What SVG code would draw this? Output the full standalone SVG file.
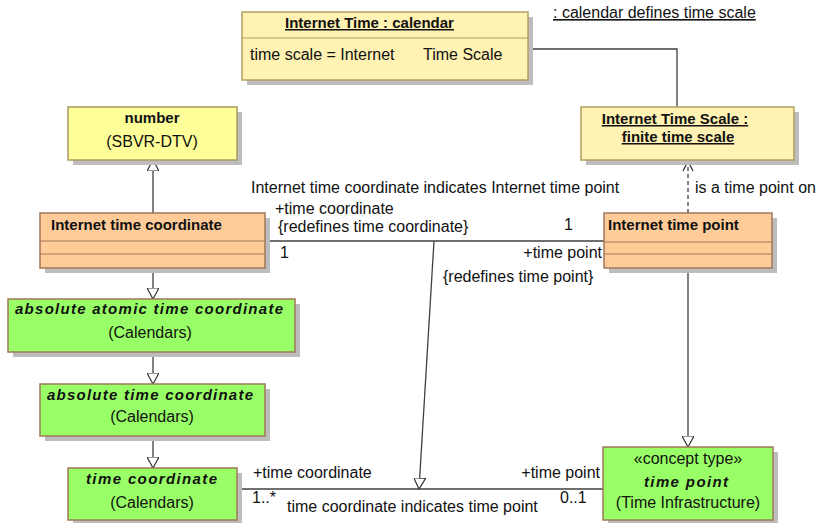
<svg xmlns="http://www.w3.org/2000/svg" width="819" height="523" viewBox="0 0 819 523">
<style>
text{font-family:"Liberation Sans",Arial,sans-serif;font-size:16px;fill:#111}
.b{font-weight:bold;font-size:15px}
.bi{font-weight:bold;font-style:italic;font-size:15px}
.u{text-decoration:underline}
.m{text-anchor:middle}
.sh{fill:#bdbdbd}
.yel{fill:#FFFF99;stroke:#A89860;stroke-width:1.5}
.bei{fill:#FFF2B3;stroke:#B0A060;stroke-width:1.5}
.org{fill:#FFCC99;stroke:#A07858;stroke-width:1.5}
.grn{fill:#99FF66;stroke:#A07858;stroke-width:1.5}
.sep{stroke:#A07858;stroke-width:1.2}
.ln{fill:none;stroke:#404040;stroke-width:1.3}
.dash{fill:none;stroke:#404040;stroke-width:1.3;stroke-dasharray:4,3}
</style>
<defs>
<marker id="gen" viewBox="0 0 12 12" refX="11" refY="6" markerWidth="12" markerHeight="12" markerUnits="userSpaceOnUse" orient="auto">
<path d="M0,0 L11,6 L0,12 Z" fill="#fff" stroke="#333" stroke-width="1.2"/>
</marker>
<marker id="open" viewBox="0 0 12 12" refX="11" refY="6" markerWidth="12" markerHeight="12" markerUnits="userSpaceOnUse" orient="auto">
<path d="M1,1 L11,6 L1,11" fill="none" stroke="#333" stroke-width="1.3"/>
</marker>
</defs>

<g id="connectors">
<polyline class="ln" points="528,49 677,49 677,107"/>
<line class="dash" x1="688" y1="213" x2="688" y2="161" marker-end="url(#open)"/>
<line class="ln" x1="153" y1="213" x2="153" y2="160" marker-end="url(#gen)"/>
<line class="ln" x1="265" y1="241" x2="604" y2="241"/>
<line class="ln" x1="434" y1="241" x2="419" y2="489" marker-end="url(#gen)"/>
<line class="ln" x1="153" y1="268" x2="153" y2="299" marker-end="url(#gen)"/>
<line class="ln" x1="153" y1="352" x2="153" y2="384" marker-end="url(#gen)"/>
<line class="ln" x1="153" y1="436" x2="153" y2="468" marker-end="url(#gen)"/>
<line class="ln" x1="688" y1="268" x2="688" y2="447" marker-end="url(#gen)"/>
<line class="ln" x1="237" y1="489" x2="603" y2="489"/>
<text x="553" y="18" class="u">: calendar defines time scale</text>
<text x="695" y="193">is a time point on</text>
<text x="251" y="193">Internet time coordinate indicates Internet time point</text>
<text x="275" y="214">+time coordinate</text>
<text x="278" y="232">{redefines time coordinate}</text>
<text x="280" y="258">1</text>
<text x="564" y="230">1</text>
<text x="602" y="258" text-anchor="end">+time point</text>
<text x="443" y="282">{redefines time point}</text>
<text x="253" y="478">+time coordinate</text>
<text x="600" y="478" text-anchor="end">+time point</text>
<text x="252" y="503">1..*</text>
<text x="287" y="512">time coordinate indicates time point</text>
<text x="560" y="503">0..1</text>
</g>

<g id="internet-time-calendar">
<rect class="sh" x="247" y="17" width="286" height="68"/>
<rect class="bei" x="242" y="12" width="286" height="68"/>
<line x1="242" y1="38" x2="528" y2="38" stroke="#B0A060" stroke-width="1.2"/>
<text x="285" y="28" class="b u">Internet Time : calendar</text>
<text x="250" y="60">time scale = Internet</text>
<text x="423" y="60">Time Scale</text>
</g>

<g id="internet-time-scale">
<rect class="sh" x="586" y="112" width="213" height="53"/>
<rect class="bei" x="581" y="107" width="213" height="53"/>
<text x="675" y="124" class="b u m">Internet Time Scale :</text>
<text x="678" y="142" class="b u m">finite time scale</text>
</g>

<g id="number">
<rect class="sh" x="73" y="112" width="169" height="53"/>
<rect class="yel" x="68" y="107" width="169" height="53"/>
<text x="152" y="123" class="b m">number</text>
<text x="152" y="147" class="m">(SBVR-DTV)</text>
</g>

<g id="internet-time-coordinate">
<rect class="sh" x="45" y="218" width="225" height="55"/>
<rect class="org" x="40" y="213" width="225" height="55"/>
<line class="sep" x1="40" y1="241" x2="265" y2="241"/>
<line class="sep" x1="40" y1="254" x2="265" y2="254"/>
<text x="51" y="230" class="b">Internet time coordinate</text>
</g>

<g id="internet-time-point">
<rect class="sh" x="609" y="218" width="168" height="55"/>
<rect class="org" x="604" y="213" width="168" height="55"/>
<line class="sep" x1="604" y1="242" x2="772" y2="242"/>
<line class="sep" x1="604" y1="254" x2="772" y2="254"/>
<text x="608" y="230" class="b">Internet time point</text>
</g>

<g id="absolute-atomic-time-coordinate">
<rect class="sh" x="13" y="304" width="287" height="53"/>
<rect class="grn" x="8" y="299" width="287" height="53"/>
<text x="15" y="314" class="bi" textLength="268" lengthAdjust="spacing">absolute atomic time coordinate</text>
<text x="150" y="338" class="m">(Calendars)</text>
</g>

<g id="absolute-time-coordinate">
<rect class="sh" x="45" y="389" width="225" height="52"/>
<rect class="grn" x="40" y="384" width="225" height="52"/>
<text x="47" y="400" class="bi" textLength="206" lengthAdjust="spacing">absolute time coordinate</text>
<text x="152" y="422" class="m">(Calendars)</text>
</g>

<g id="time-coordinate">
<rect class="sh" x="73" y="473" width="169" height="52"/>
<rect class="grn" x="68" y="468" width="169" height="52"/>
<text x="86" y="484" class="bi" textLength="131" lengthAdjust="spacing">time coordinate</text>
<text x="152" y="508" class="m">(Calendars)</text>
</g>

<g id="time-point">
<rect class="sh" x="608" y="452" width="170" height="73"/>
<rect class="grn" x="603" y="447" width="170" height="73"/>
<text x="688" y="464" class="m">«concept type»</text>
<text x="644" y="487" class="bi" textLength="84" lengthAdjust="spacing">time point</text>
<text x="688" y="508" class="m">(Time Infrastructure)</text>
</g>
</svg>
